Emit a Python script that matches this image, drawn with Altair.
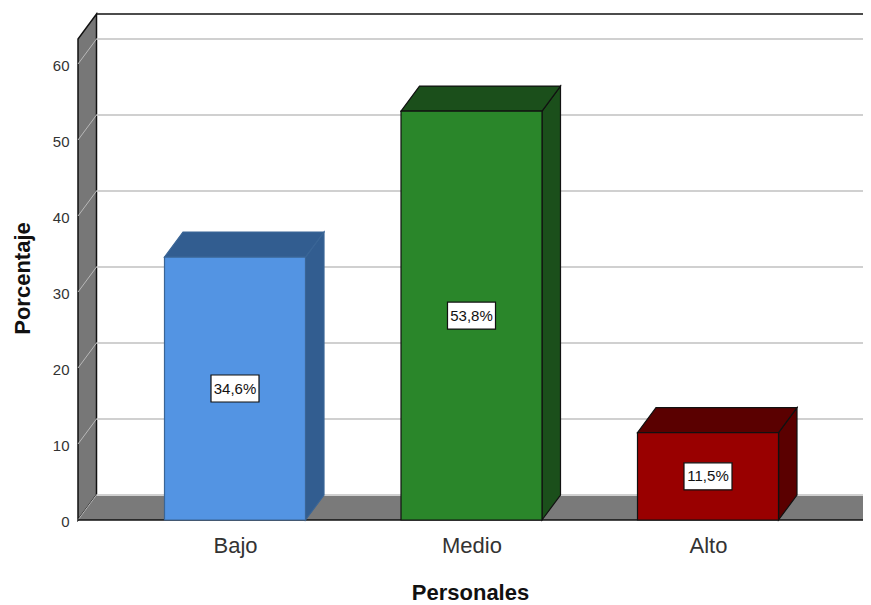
import json
import altair as alt
import pandas as pd

# ---- data ----
categories = ["Bajo", "Medio", "Alto"]
percentages = [34.6, 53.8, 11.5]
value_labels = ["34,6%", "53,8%", "11,5%"]
front_colors = ["#5394e3", "#2a862a", "#990000"]
shade_colors = ["#325d90", "#1b4f1b", "#5a0000"]
edge_colors = ["#3a6596", "#111111", "#111111"]
y_ticks = [0, 10, 20, 30, 40, 50, 60]

# ---- geometry (scale set-up, in pixels of the plot) ----
STEP_PX = 236.5          # pixels between category centres
PX_PER_UNIT = 7.6        # pixels per percentage point
W, H = 785, 506
XMIN = -157 / STEP_PX
XMAX = XMIN + W / STEP_PX
YMAX = H / PX_PER_UNIT
DX = 18.5 / STEP_PX      # 3-D depth, horizontal
DY = 25 / PX_PER_UNIT    # 3-D depth, vertical
HALF = 70.5 / STEP_PX    # half bar width
FLOOR_END = 631 / STEP_PX
BOX_W = 24 / STEP_PX
BOX_H = 13.5 / PX_PER_UNIT

FONT = "Liberation Sans"
xs = alt.Scale(domain=[XMIN, XMAX], nice=False, zero=False)
ys = alt.Scale(domain=[0, YMAX], nice=False, zero=False)

x_axis = alt.Axis(
    values=[0, 1, 2], labelExpr=f"{json.dumps(categories)}[round(datum.value)]",
    grid=False, domain=False, ticks=False, labelPadding=15, labelFontSize=22,
    labelFont=FONT, labelColor="#333333", labelAngle=0,
    title="Personales", titleFont=FONT, titleFontSize=22, titleFontWeight="bold",
    titleColor="#111111", titleX=392, titleY=79.5, titleAnchor="middle",
    titleAlign="center", titleBaseline="alphabetic",
)
y_axis = alt.Axis(
    values=y_ticks, grid=False, domain=False, ticks=False, labelPadding=9,
    labelFontSize=15, labelFont=FONT, labelColor="#333333", labelOffset=1,
    title="Porcentaje", titleFont=FONT, titleFontSize=22, titleFontWeight="bold",
    titleColor="#111111", titleX=-56, titleY=264, titleAngle=270,
    titleAlign="center", titleBaseline="middle",
)


def X(f):
    return alt.X(f, type="quantitative", scale=xs, axis=x_axis)


def Y(f):
    return alt.Y(f, type="quantitative", scale=ys, axis=y_axis)


# ---- tables ----
bars = pd.DataFrame({
    "cat": categories,
    "i": list(range(len(categories))),
    "v": percentages,
    "label": value_labels,
    "front": front_colors,
    "shade": shade_colors,
    "edge": edge_colors,
})
bars["x0"] = bars["i"] - HALF
bars["x1"] = bars["i"] + HALF
bars["base"] = 0.0
bars["mid"] = bars["v"] / 2
bars["bx0"] = bars["i"] - BOX_W
bars["bx1"] = bars["i"] + BOX_W
bars["by0"] = bars["mid"] - BOX_H
bars["by1"] = bars["mid"] + BOX_H

top_rows, side_rows = [], []
for r in bars.to_dict("records"):
    top_rows.append({"cat": r["cat"], "y": r["v"], "xa": r["x0"], "xb": r["x1"], "shade": r["shade"], "edge": r["edge"]})
    top_rows.append({"cat": r["cat"], "y": r["v"] + DY, "xa": r["x0"] + DX, "xb": r["x1"] + DX, "shade": r["shade"], "edge": r["edge"]})
    side_rows.append({"cat": r["cat"], "x": r["x1"], "y": 0.0, "y2": r["v"], "shade": r["shade"], "edge": r["edge"]})
    side_rows.append({"cat": r["cat"], "x": r["x1"] + DX, "y": DY, "y2": r["v"] + DY, "shade": r["shade"], "edge": r["edge"]})
tops = pd.DataFrame(top_rows)
sides = pd.DataFrame(side_rows)

grid = pd.DataFrame({
    "xa": [XMIN + DX] * len(y_ticks),
    "xb": [XMAX] * len(y_ticks),
    "ya": [v + DY for v in y_ticks],
    "yb": [v + DY for v in y_ticks],
})
diag = pd.DataFrame({
    "xa": [XMIN] * len(y_ticks),
    "xb": [XMIN + DX] * len(y_ticks),
    "ya": [float(v) for v in y_ticks],
    "yb": [v + DY for v in y_ticks],
})
left_panel = pd.DataFrame({"x": [XMIN, XMIN + DX], "y": [0.0, DY], "y2": [YMAX - DY, YMAX]})
floor = pd.DataFrame({"y": [0.0, DY], "xa": [XMIN, XMIN + DX], "xb": [FLOOR_END, FLOOR_END + DX]})
edges = pd.DataFrame({
    "xa": [XMIN + DX, XMIN, FLOOR_END],
    "xb": [XMAX, FLOOR_END, FLOOR_END + DX],
    "ya": [YMAX, 0.0, 0.0],
    "yb": [YMAX, 0.0, DY],
})

# ---- layers ----
panel_layer = alt.Chart(left_panel).mark_area(
    orient="vertical", color="#777777", stroke="#111111", strokeWidth=1.5, opacity=1
).encode(x=X("x"), y=Y("y"), y2=alt.Y2("y2"))

floor_layer = alt.Chart(floor).mark_area(
    orient="horizontal", color="#7a7a7a", opacity=1
).encode(y=Y("y"), x=X("xa"), x2=alt.X2("xb"))

grid_layer = alt.Chart(grid).mark_rule(color="#d0d0d0", strokeWidth=2).encode(
    x=X("xa"), x2=alt.X2("xb"), y=Y("ya"), y2=alt.Y2("yb"))

diag_layer = alt.Chart(diag).mark_rule(color="#b8b8b8", strokeWidth=1).encode(
    x=X("xa"), x2=alt.X2("xb"), y=Y("ya"), y2=alt.Y2("yb"))

edge_layer = alt.Chart(edges).mark_rule(color="#111111", strokeWidth=1.6).encode(
    x=X("xa"), x2=alt.X2("xb"), y=Y("ya"), y2=alt.Y2("yb"))

side_layer = alt.Chart(sides).mark_area(orient="vertical", strokeWidth=1.2, opacity=1).encode(
    x=X("x"), y=Y("y"), y2=alt.Y2("y2"), detail="cat:N",
    color=alt.Color("shade:N", scale=None, legend=None),
    stroke=alt.Stroke("edge:N", scale=None, legend=None))

top_layer = alt.Chart(tops).mark_area(orient="horizontal", strokeWidth=1.2, opacity=1).encode(
    y=Y("y"), x=X("xa"), x2=alt.X2("xb"), detail="cat:N",
    color=alt.Color("shade:N", scale=None, legend=None),
    stroke=alt.Stroke("edge:N", scale=None, legend=None))

front_layer = alt.Chart(bars).mark_rect(strokeWidth=1.2).encode(
    x=X("x0"), x2=alt.X2("x1"),
    y=Y("base"), y2=alt.Y2("v"),
    color=alt.Color("front:N", scale=None, legend=None),
    stroke=alt.Stroke("edge:N", scale=None, legend=None))

box_layer = alt.Chart(bars).mark_rect(color="white", stroke="#111111", strokeWidth=1.2).encode(
    x=X("bx0"), x2=alt.X2("bx1"), y=Y("by0"), y2=alt.Y2("by1"))

text_layer = alt.Chart(bars).mark_text(
    font=FONT, fontSize=15, color="#111111", baseline="middle", align="center"
).encode(x=X("i"), y=Y("mid"), text="label:N")

chart = alt.layer(
    panel_layer, floor_layer, grid_layer, diag_layer, edge_layer,
    side_layer, top_layer, front_layer, box_layer, text_layer,
).properties(
    width=W, height=H,
    padding={"left": 70, "top": 6, "right": 0, "bottom": 85},
    autosize=alt.AutoSizeParams(type="none"),
    background="white",
).configure_view(stroke=None)

chart.save("out.html", embed_options={"renderer": "svg", "actions": False})
